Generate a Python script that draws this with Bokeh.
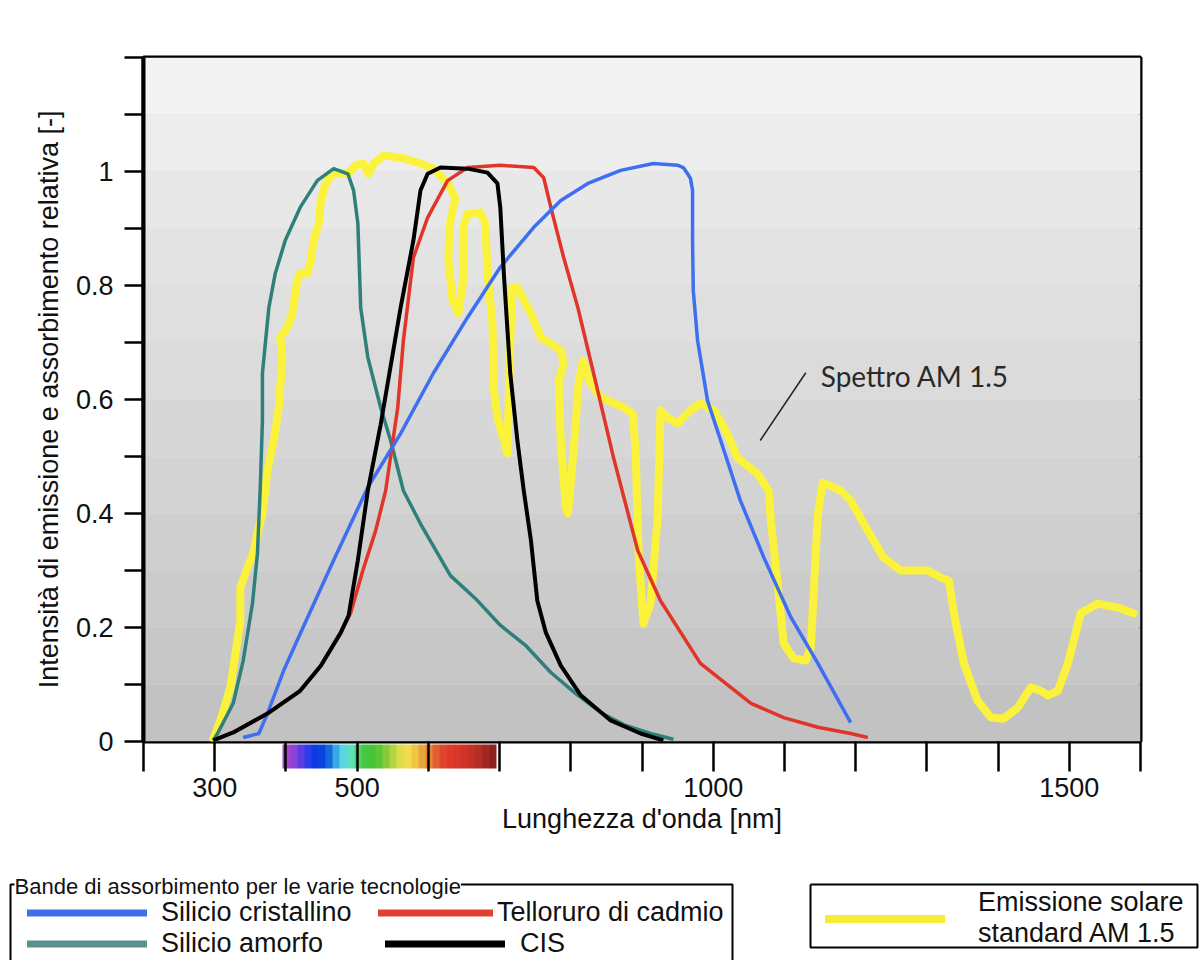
from bokeh.plotting import figure
from bokeh.models import (Range1d, FixedTicker, Legend, LegendItem, Label, ColorBar,
                          LinearColorMapper)
from bokeh.layouts import column
from bokeh.embed import file_html
from bokeh.resources import INLINE
import numpy as np

# ---------------- data ----------------
# Solar emission AM 1.5 (relative)
am15_nm = [298, 308, 322, 329, 336, 336, 346, 354, 360, 367, 374, 383, 390, 395, 392, 402, 409, 416,
           420, 430, 435, 439, 446, 449, 456, 465, 477, 487, 498, 509, 516, 523, 537, 565, 589, 607,
           627, 638, 631, 628, 634, 642, 649, 649, 655, 673, 680, 683, 690, 692, 697, 706, 711, 715,
           718, 725, 744, 758, 786, 790, 783, 786, 793, 796, 804, 811, 817, 828, 842, 874, 887, 891,
           895, 902, 912, 922, 926, 936, 950, 968, 982, 1001, 1020, 1034, 1062, 1078, 1081, 1090,
           1099, 1113, 1130, 1137, 1147, 1154, 1179, 1193, 1217, 1239, 1263, 1301, 1319, 1331, 1338,
           1352, 1371, 1390, 1408, 1428, 1446, 1460, 1470, 1484, 1498, 1516, 1540, 1568, 1590]
am15_val = [0.005, 0.037, 0.095, 0.154, 0.212, 0.270, 0.305, 0.330, 0.365, 0.400, 0.475, 0.528,
            0.586, 0.674, 0.709, 0.726, 0.751, 0.809, 0.821, 0.821, 0.844, 0.879, 0.909, 0.949,
            0.979, 0.996, 0.998, 0.996, 1.011, 1.014, 0.996, 1.014, 1.028, 1.023, 1.014, 1.005,
            0.979, 0.953, 0.914, 0.849, 0.774, 0.751, 0.809, 0.902, 0.926, 0.928, 0.909, 0.821,
            0.733, 0.616, 0.568, 0.528, 0.505, 0.704, 0.796, 0.796, 0.751, 0.709, 0.686, 0.663,
            0.633, 0.528, 0.411, 0.400, 0.511, 0.628, 0.668, 0.628, 0.604, 0.586, 0.575, 0.511,
            0.335, 0.207, 0.242, 0.393, 0.581, 0.568, 0.558, 0.581, 0.593, 0.581, 0.540, 0.498,
            0.470, 0.440, 0.388, 0.282, 0.172, 0.146, 0.142, 0.165, 0.400, 0.454, 0.440, 0.423,
            0.370, 0.323, 0.300, 0.300, 0.288, 0.282, 0.225, 0.137, 0.072, 0.042, 0.040, 0.060,
            0.095, 0.089, 0.081, 0.089, 0.137, 0.225, 0.242, 0.235, 0.225]

# Silicio amorfo
amorfo_nm = [298, 304, 326, 340, 353, 360, 364, 367, 367, 376, 385, 399, 420, 444, 467, 487, 495,
             501, 505, 515, 533, 547, 565, 589, 631, 666, 701, 737, 772, 807, 842, 877, 912, 944]
amorfo_val = [0.002, 0.014, 0.067, 0.142, 0.242, 0.330, 0.446, 0.563, 0.646, 0.761, 0.821, 0.879,
              0.937, 0.984, 1.005, 0.996, 0.967, 0.909, 0.761, 0.674, 0.586, 0.528, 0.440, 0.382,
              0.291, 0.251, 0.204, 0.168, 0.121, 0.084, 0.051, 0.028, 0.014, 0.004]

# Telloruro di cadmio
cdte_nm = [298, 326, 374, 420, 449, 477, 491, 508, 526, 540, 557, 565, 579, 599, 627, 655, 701, 748,
           762, 772, 790, 810, 832, 860, 894, 926, 982, 1053, 1099, 1147, 1193, 1217]
cdte_val = [0.002, 0.016, 0.049, 0.089, 0.133, 0.191, 0.226, 0.300, 0.370, 0.440, 0.586, 0.704,
            0.849, 0.919, 0.984, 1.007, 1.011, 1.007, 0.989, 0.937, 0.849, 0.761, 0.646, 0.498,
            0.335, 0.247, 0.137, 0.067, 0.042, 0.025, 0.014, 0.007]

# Silicio cristallino
cristallino_nm = [340, 362, 374, 397, 420, 467, 515, 561, 607, 655, 701, 748, 786, 824, 870, 916,
                  950, 958, 964, 968, 971, 971, 972, 978, 992, 1015, 1038, 1071, 1109, 1147, 1193]
cristallino_val = [0.007, 0.014, 0.049, 0.125, 0.189, 0.318, 0.446, 0.540, 0.646, 0.744, 0.832,
                   0.902, 0.949, 0.979, 1.002, 1.014, 1.011, 1.007, 0.996, 0.988, 0.967, 0.879,
                   0.791, 0.704, 0.598, 0.511, 0.423, 0.323, 0.218, 0.137, 0.033]

# CIS
cis_nm = [298, 326, 374, 420, 449, 477, 488, 501, 515, 533, 561, 579, 589, 599, 617, 655, 683, 697,
          701, 706, 715, 725, 734, 744, 753, 765, 786, 814, 856, 898, 930]
cis_val = [0.002, 0.016, 0.049, 0.089, 0.133, 0.191, 0.221, 0.318, 0.440, 0.556, 0.761, 0.879,
           0.967, 0.996, 1.007, 1.005, 0.998, 0.979, 0.937, 0.821, 0.646, 0.528, 0.440, 0.353,
           0.247, 0.191, 0.133, 0.081, 0.037, 0.014, 0.002]

# axes
x_start, x_end = 200, 1600
y_start, y_end = 0, 1.2
x_major_ticks = [300, 500, 1000, 1500]
x_minor_ticks = [200, 400, 600, 700, 800, 900, 1100, 1200, 1300, 1400, 1600]
y_major_ticks = [0, 0.2, 0.4, 0.6, 0.8, 1]
y_minor_ticks = [0.1, 0.3, 0.5, 0.7, 0.9, 1.1, 1.2]
y_labels = {0: "0", 1: "1"}

# visible spectrum strip: 400-700 nm in 10 nm steps
spectrum_lo, spectrum_hi, spectrum_step = 400, 700, 10
spectrum_colors = ["#a644cc", "#8a42d8", "#5a3ee2", "#2c3ce8", "#0c3ae4", "#0a44e0", "#1468e0",
                   "#38a8e6", "#5ad6e0", "#5ee0b8", "#50d46a", "#46c840", "#48c438", "#5cc636",
                   "#86ca3a", "#b4d242", "#dcdc48", "#f0dc4c", "#f0c444", "#eaa43c", "#e68436",
                   "#e26030", "#e0442c", "#de3a2a", "#d8382a", "#d03428", "#c43026", "#b42c24",
                   "#a22622", "#8e2020"]

# annotation
annot_text = "Spettro AM 1.5"
annot_x, annot_y = 1151, 0.642
leader_x = [1066, 1130]
leader_y = [0.528, 0.647]

# background bands (grey gradient)
band_edges = np.round(np.arange(0, 13) * 0.1, 2)
band_colors = ["#c2c2c2", "#c7c7c7", "#cbcbcb", "#cfcfcf", "#d3d3d3", "#d7d7d7",
               "#dbdbdb", "#dfdfdf", "#e3e3e3", "#e8e8e8", "#ededed", "#f3f3f3"]

FONT = "Liberation Sans"
W = 1202
ML, MR, MT = 143, 62, 57
H_MAIN, H_LEG = 870, 90
FRAME_W = W - ML - MR

# ---------------- main figure ----------------
p = figure(width=W, height=H_MAIN, x_range=Range1d(x_start, x_end), y_range=Range1d(y_start, y_end),
           output_backend="svg", toolbar_location=None,
           min_border_left=ML, min_border_right=MR, min_border_top=MT,
           min_border_bottom=H_MAIN - 741)
p.grid.visible = False
p.border_fill_color = "white"
p.background_fill_color = "#dddddd"
p.outline_line_color = "black"
p.outline_line_width = 4

p.quad(left=x_start, right=x_end, bottom=band_edges[:-1], top=band_edges[1:],
       fill_color=band_colors, line_color=None)

ya = p.yaxis[0]
ya.ticker = FixedTicker(ticks=y_major_ticks, minor_ticks=y_minor_ticks)
ya.major_label_overrides = y_labels
ya.axis_label = "Intensità di emissione e assorbimento relativa [-]"
ya.axis_label_text_font = FONT
ya.axis_label_text_font_size = "27px"
ya.axis_label_text_font_style = "normal"
ya.axis_label_text_color = "#111111"
ya.axis_label_standoff = 9
ya.major_label_text_font = FONT
ya.major_label_text_font_size = "27px"
ya.major_label_text_color = "#111111"
ya.major_label_standoff = 11
ya.major_tick_out = 19
ya.major_tick_in = 0
ya.minor_tick_out = 19
ya.minor_tick_in = 0
ya.major_tick_line_width = 2.5
ya.minor_tick_line_width = 2.5
ya.minor_tick_line_color = "black"
ya.axis_line_width = 4

# spectrum strip just below the frame (colour bar spanning the whole x range)
n_before = (spectrum_lo - x_start) // spectrum_step
n_after = (x_end - spectrum_hi) // spectrum_step
strip_palette = ["#ffffff"] * n_before + spectrum_colors + ["#ffffff"] * n_after
strip_mapper = LinearColorMapper(palette=strip_palette, low=x_start, high=x_end)
cb = ColorBar(color_mapper=strip_mapper, orientation="horizontal", width=FRAME_W, height=24,
              padding=3, margin=0, ticker=FixedTicker(ticks=[]), major_label_text_font_size="0px",
              major_tick_line_color=None, minor_tick_line_color=None, major_tick_out=0,
              major_tick_in=0, label_standoff=0, bar_line_color=None, border_line_color=None,
              background_fill_color="white", background_fill_alpha=0)

xa = p.xaxis[0]
xa.ticker = FixedTicker(ticks=x_major_ticks, minor_ticks=x_minor_ticks)
xa.level = "overlay"
xa.axis_line_color = None
xa.major_tick_in = 30
xa.major_tick_out = 0
xa.minor_tick_in = 30
xa.minor_tick_out = 0
xa.major_tick_line_width = 2.5
xa.minor_tick_line_width = 2.5
xa.minor_tick_line_color = "black"
xa.axis_label = "Lunghezza d'onda [nm]"
xa.axis_label_text_font = FONT
xa.axis_label_text_font_size = "27px"
xa.axis_label_text_font_style = "normal"
xa.axis_label_text_color = "#111111"
xa.axis_label_standoff = 4
xa.major_label_text_font = FONT
xa.major_label_text_font_size = "27px"
xa.major_label_text_color = "#111111"
xa.major_label_standoff = 6
p.below = [cb, xa]

C_YEL, C_TEAL, C_RED, C_BLUE, C_BLK = "#fbf23c", "#2f7f7a", "#e2352a", "#3d6ff0", "#000000"
p.line(am15_nm, am15_val, line_color=C_YEL, line_width=8, line_join="round", line_cap="round")
p.line(amorfo_nm, amorfo_val, line_color=C_TEAL, line_width=3.5, line_join="round")
p.line(cdte_nm, cdte_val, line_color=C_RED, line_width=3.5, line_join="round")
p.line(cristallino_nm, cristallino_val, line_color=C_BLUE, line_width=3.5, line_join="round")
p.line(cis_nm, cis_val, line_color=C_BLK, line_width=4, line_join="round")

p.line(leader_x, leader_y, line_color="#222222", line_width=1.5)
p.add_layout(Label(x=annot_x, y=annot_y, text=annot_text, text_font="Lato", text_font_size="28px",
                   text_color="#2a2a2a", text_baseline="middle", text_align="left"))

# ---------------- legends ----------------
g = figure(width=W, height=H_LEG, x_range=Range1d(0, W), y_range=Range1d(0, H_LEG),
           output_backend="svg", toolbar_location=None, x_axis_location=None,
           y_axis_location=None, min_border=0, frame_align=False)
g.outline_line_color = None
g.grid.visible = False
g.background_fill_color = "white"
g.border_fill_color = "white"

# legend boxes: group box open at the bottom (title on its top edge), solar box closed
g.line([10, 10, 732, 732], [-20, 76, 76, -20], line_color="black", line_width=2)
g.line([810, 1197, 1197, 810, 810], [76, 76, 13, 13, 76], line_color="black", line_width=2)

nan_pt = np.array([np.nan])
lg_blue = g.line(nan_pt, nan_pt, line_color="#3f6fe8", line_width=7, line_cap="round")
lg_teal = g.line(nan_pt, nan_pt, line_color="#5a9090", line_width=7, line_cap="round")
lg_red = g.line(nan_pt, nan_pt, line_color="#e04030", line_width=7, line_cap="round")
lg_blk = g.line(nan_pt, nan_pt, line_color="#000000", line_width=7, line_cap="round")
lg_yel = g.line(nan_pt, nan_pt, line_color="#f8ec3a", line_width=8, line_cap="round")

legend_style = dict(glyph_height=31, label_height=31, spacing=0, padding=0, margin=0,
                    label_text_font=FONT, label_text_font_size="27px", label_text_color="#111111",
                    border_line_color=None, background_fill_alpha=0)

leg_si = Legend(items=[LegendItem(label="Silicio cristallino", renderers=[lg_blue]),
                       LegendItem(label="Silicio amorfo", renderers=[lg_teal])],
                location=(27, 1.5), glyph_width=120, label_standoff=14, **legend_style)
leg_cd = Legend(items=[LegendItem(label="Telloruro di cadmio", renderers=[lg_red])],
                location=(378, 32.5), glyph_width=115, label_standoff=4, **legend_style)
leg_cis = Legend(items=[LegendItem(label="CIS", renderers=[lg_blk])],
                 location=(385, 1.5), glyph_width=120, label_standoff=15, **legend_style)
leg_sun = Legend(items=[LegendItem(label="Emissione solare\nstandard AM 1.5", renderers=[lg_yel])],
                 location=(825, 11), glyph_width=120, label_standoff=33, **legend_style)
for lg in (leg_si, leg_cd, leg_cis, leg_sun):
    g.add_layout(lg)

title_lbl = Label(x=14, y=74, x_units="screen", y_units="screen",
                  text="Bande di assorbimento per le varie tecnologie", text_font=FONT,
                  text_font_size="22px", text_color="#111111", text_baseline="middle",
                  background_fill_color="white")
g.add_layout(title_lbl)

layout = column(p, g, spacing=0)
open("out.html", "w").write(file_html(layout, INLINE))
